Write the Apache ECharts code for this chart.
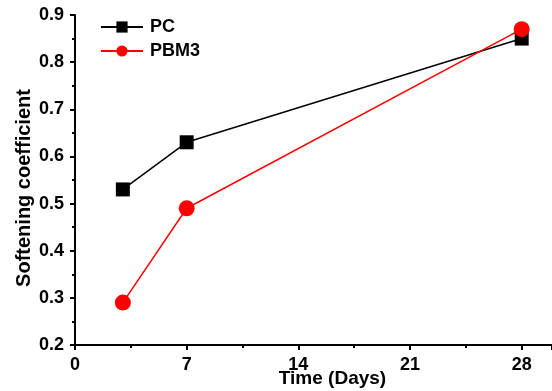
<!DOCTYPE html>
<html><head><meta charset="utf-8">
<script src="https://cdn.jsdelivr.net/npm/echarts@6/dist/echarts.min.js"></script>
<style>html,body{margin:0;padding:0;background:#fff}#c{width:552px;height:391px}</style>
</head><body><div id="c"></div>
<script>
const days = [3, 7, 28];
const pcValues = [0.53, 0.63, 0.85];
const pbm3Values = [0.29, 0.49, 0.87];
const xTicks = [0, 7, 14, 21, 28];
const yTicks = [0.2, 0.3, 0.4, 0.5, 0.6, 0.7, 0.8, 0.9];

const chart = echarts.init(document.getElementById('c'));
const font = 'Liberation Sans, Arial, sans-serif';
chart.setOption({
  animation: false,
  grid: {left: 75, right: 0, top: 15, bottom: 46, containLabel: false, outerBoundsMode: 'none'},
  legend: {
    left: 95, top: 13, orient: 'vertical', itemGap: 6, itemWidth: 42, itemHeight: 14,
    textStyle: {fontFamily: font, fontWeight: 'bold', fontSize: 18, color: '#000', padding: [0, 0, 0, 2]},
    data: ['PC', 'PBM3']
  },
  xAxis: {
    type: 'value', min: 0, max: 29.9, interval: 7,
    name: 'Time (Days)', nameLocation: 'middle', nameGap: 24, nameMoveOverlap: false,
    nameTextStyle: {fontFamily: font, fontWeight: 'bold', fontSize: 19, color: '#000', padding: [0, 0, 0, 38]},
    axisLine: {show: true, lineStyle: {color: '#000', width: 2}},
    axisTick: {show: true, inside: false, length: 5, lineStyle: {color: '#000', width: 2}},
    minorTick: {show: true, splitNumber: 2, length: 3, lineStyle: {color: '#000', width: 2}},
    splitLine: {show: false},
    axisLabel: {fontFamily: font, fontWeight: 'bold', fontSize: 18, color: '#000', margin: 11,
      formatter: v => xTicks.includes(v) ? String(v) : ''}
  },
  yAxis: {
    type: 'value', min: 0.2, max: 0.9, interval: 0.1,
    name: 'Softening coefficient', nameLocation: 'middle', nameGap: 41, nameRotate: 90, nameMoveOverlap: false,
    nameTextStyle: {fontFamily: font, fontWeight: 'bold', fontSize: 20, color: '#000', padding: [0, 16, 0, 0]},
    axisLine: {show: true, lineStyle: {color: '#000', width: 2}},
    axisTick: {show: true, inside: false, length: 5, lineStyle: {color: '#000', width: 2}},
    minorTick: {show: true, splitNumber: 2, length: 3, lineStyle: {color: '#000', width: 2}},
    splitLine: {show: false},
    axisLabel: {fontFamily: font, fontWeight: 'bold', fontSize: 18, color: '#000', margin: 11,
      formatter: v => { const t = yTicks.find(y => Math.abs(y - v) < 1e-6); return t !== undefined ? t.toFixed(1) : ''; }}
  },
  series: [
    {name: 'PC', type: 'line', data: days.map((d, i) => [d, pcValues[i]]),
      symbol: 'rect', symbolSize: 14, itemStyle: {color: '#000'},
      lineStyle: {color: '#000', width: 1.5}},
    {name: 'PBM3', type: 'line', data: days.map((d, i) => [d, pbm3Values[i]]),
      symbol: 'circle', symbolSize: 16, itemStyle: {color: '#ff0000'},
      lineStyle: {color: '#ff0000', width: 1.5}}
  ]
});
</script></body></html>
